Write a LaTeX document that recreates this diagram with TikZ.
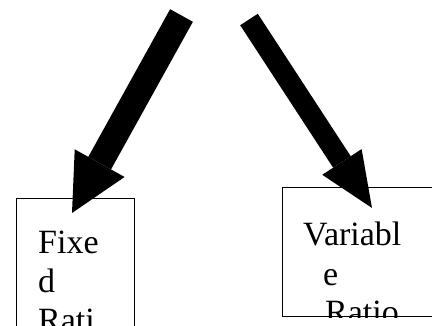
\documentclass[tikz,border=0pt]{standalone}
\usepackage{fontspec}
\setmainfont{Liberation Serif}
\usetikzlibrary{arrows.meta}

\tikzset{
    box/.style={draw, line width=1.2pt, anchor=north west, inner sep=0pt},
    boxtext/.style={font=\fontsize{34}{39}\selectfont, align=left,
        anchor=base west, inner sep=0pt},
}

\begin{document}
\begin{tikzpicture}[x=1pt,y=-1pt]

    \useasboundingbox (0,0) rectangle (432,326);

    \node[box, minimum width=118pt, minimum height=150pt]
        (fixed) at (16,198) {};

    \node[box, minimum width=160pt, minimum height=129pt]
        (variable) at (282,187) {};

    \node[boxtext] (fixedtext) at (38,332) {Fixe\\d\\Rati};

    \begin{scope}
        \clip (variable.north west) rectangle (variable.south east);
        \node[boxtext] (variabletext)
            at (303,324) {Variabl\\\hspace*{20pt}e\\\hspace*{22pt}Ratio};
    \end{scope}

    \coordinate (fixedtail) at (181.5,15.5);
    \coordinate (fixedtip) at (72,213);
    \coordinate (variabletail) at (249,19.5);
    \coordinate (variabletip) at (372,208);

    \draw[line width=26pt,
        -{Triangle[length=57pt,width=57pt,line width=0pt]}]
        (fixedtail) -- (fixedtip);

    \draw[line width=21pt,
        -{Triangle[length=55pt,width=47pt,line width=0pt]}]
        (variabletail) -- (variabletip);

\end{tikzpicture}
\end{document}
